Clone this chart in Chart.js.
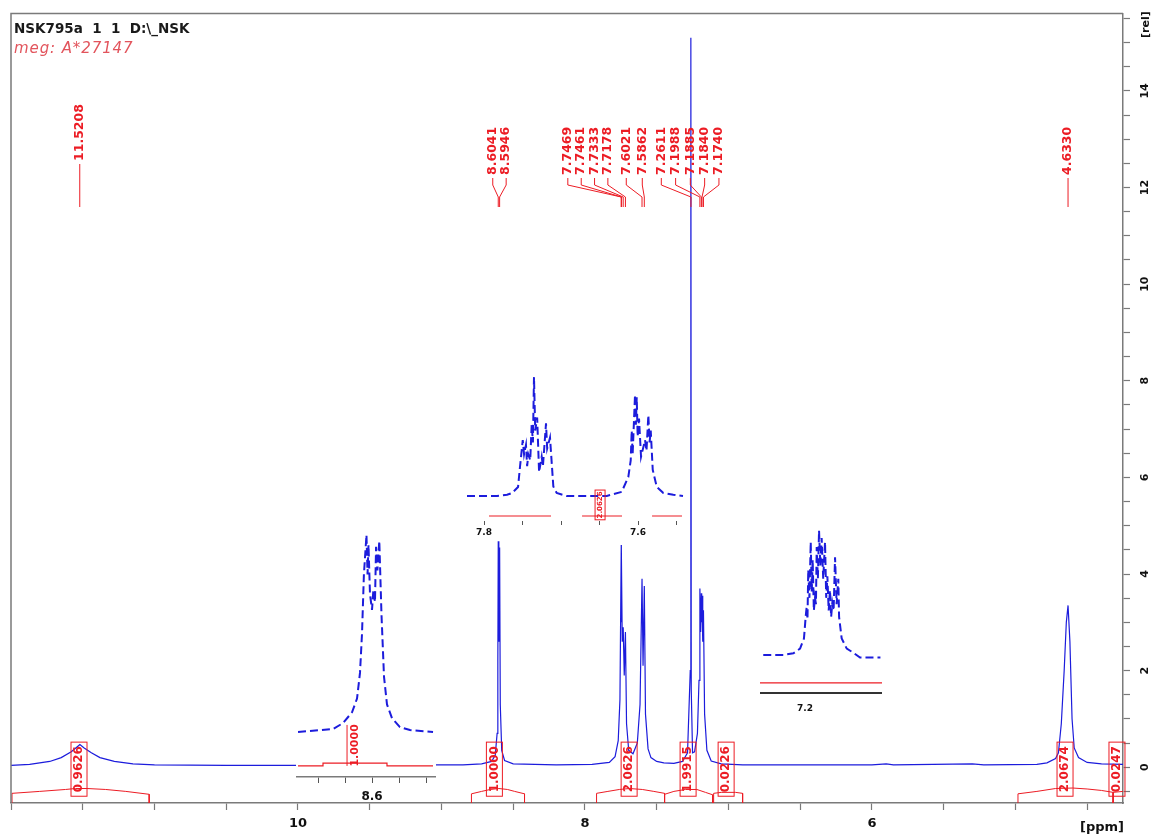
<!DOCTYPE html>
<html>
<head>
<meta charset="utf-8">
<script src="https://cdn.jsdelivr.net/npm/chart.js@4.4.1/dist/chart.umd.min.js"></script>
<style>
  body { margin: 0; background: #fff; }
  #wrap { position: relative; width: 1159px; height: 839px; }
  #wrap canvas { position: absolute; }
  .inset { background: #fff; }
</style>
</head>
<body>
<div id="wrap">
  <canvas id="main" width="1159" height="839" style="left:0;top:0"></canvas>
  <canvas id="in1" class="inset" width="140" height="282" style="left:296px;top:520px"></canvas>
  <canvas id="in2" class="inset" width="219" height="168" style="left:465px;top:370px"></canvas>
  <canvas id="in3" class="inset" width="122" height="195" style="left:760px;top:520px"></canvas>
</div>
<script>
// main 1H spectrum, [ppm, intensity]
var mainSpectrum = [
  [12.00,0.04],[11.87,0.06],[11.73,0.12],[11.65,0.20],[11.58,0.32],[11.54,0.42],[11.52,0.47],
  [11.49,0.40],[11.44,0.30],[11.38,0.20],[11.28,0.12],[11.15,0.07],[11.00,0.05],[10.50,0.04],
  [9.80,0.04],[9.20,0.05],[8.85,0.05],[8.72,0.07],[8.65,0.12],[8.625,0.25],[8.612,0.7],
  [8.607,2.2],[8.6041,4.68],[8.600,2.6],[8.5946,4.55],[8.590,1.3],[8.580,0.35],[8.560,0.14],
  [8.50,0.07],[8.20,0.05],[7.95,0.06],[7.83,0.10],[7.79,0.22],[7.768,0.55],[7.756,1.4],
  [7.7469,4.60],[7.7465,3.0],[7.7461,4.52],[7.740,2.6],[7.7333,2.9],[7.726,1.9],[7.7178,2.8],
  [7.710,0.9],[7.695,0.35],[7.665,0.28],[7.635,0.5],[7.616,1.3],[7.6021,3.90],[7.595,2.1],
  [7.5862,3.75],[7.578,1.1],[7.560,0.38],[7.540,0.2],[7.500,0.12],[7.450,0.09],[7.380,0.08],
  [7.320,0.12],[7.285,0.30],[7.2660,2.0],[7.2625,9.0],[7.2618,8.8],[7.2611,15.1],[7.2590,1.6],
  [7.250,0.3],[7.236,0.32],[7.216,0.7],[7.205,1.8],[7.1988,3.70],[7.1935,2.8],[7.1885,3.60],
  [7.1862,3.0],[7.1840,3.55],[7.179,2.6],[7.1740,3.25],[7.166,1.1],[7.150,0.35],[7.120,0.13],
  [7.050,0.07],[6.90,0.05],[6.00,0.05],[5.90,0.07],[5.85,0.05],[5.30,0.07],[5.22,0.05],
  [4.85,0.06],[4.78,0.09],[4.72,0.18],[4.70,0.3],[4.68,0.9],[4.66,2.0],[4.645,3.0],
  [4.633,3.35],[4.62,2.6],[4.605,1.0],[4.59,0.4],[4.56,0.2],[4.50,0.1],[4.40,0.07],[4.25,0.06]
];

// peak picking labels and where each label text sits (ppm)
var peakShifts  = [11.5208, 8.6041, 8.5946, 7.7469, 7.7461, 7.7333, 7.7178, 7.6021, 7.5862,
                   7.2611, 7.1988, 7.1885, 7.1840, 7.1740, 4.6330];
var peakLabelAt = [11.5208, 8.6424, 8.5490, 8.1193, 8.0258, 7.9330, 7.8402, 7.7119, 7.6003,
                   7.4678, 7.3680, 7.2655, 7.1657, 7.0660, 4.6330];

// integrals: value, label position and the drawn curve
var integralValues = ['0.9626', '1.0000', '2.0626', '1.9915', '0.0226', '2.0674', '0.0247'];
var integralLabelAt = [11.526, 8.631, 7.692, 7.281, 7.016, 4.654, 4.292];
var integralCurves = [
  [[11.993,-0.74],[11.993,-0.54],[11.80,-0.50],[11.62,-0.46],[11.55,-0.44],[11.47,-0.44],[11.34,-0.46],[11.20,-0.50],[11.037,-0.56],[11.037,-0.74]],
  [[8.791,-0.74],[8.791,-0.55],[8.72,-0.50],[8.66,-0.46],[8.60,-0.44],[8.54,-0.46],[8.49,-0.50],[8.421,-0.55],[8.421,-0.74]],
  [[7.919,-0.74],[7.919,-0.54],[7.84,-0.50],[7.76,-0.46],[7.69,-0.44],[7.60,-0.46],[7.52,-0.50],[7.445,-0.54],[7.445,-0.74]],
  [[7.445,-0.74],[7.445,-0.56],[7.38,-0.50],[7.30,-0.46],[7.22,-0.46],[7.16,-0.52],[7.110,-0.57],[7.110,-0.74]],
  [[7.103,-0.74],[7.103,-0.54],[7.05,-0.52],[6.95,-0.52],[6.901,-0.54],[6.901,-0.74]],
  [[4.982,-0.74],[4.982,-0.55],[4.85,-0.50],[4.72,-0.44],[4.60,-0.43],[4.50,-0.45],[4.40,-0.48],[4.319,-0.52],[4.319,-0.74]],
  [[4.319,-0.74],[4.319,-0.52],[4.25,-0.50]]
];

// expansions (relative intensity, 1 = tallest line in the inset)
var inset1Spectrum = [
  [8.6548,0],[8.6289,0.015],[8.6215,0.045],[8.6148,0.10],[8.6111,0.17],[8.6089,0.30],[8.6074,0.50],
  [8.6060,0.80],[8.6041,1.00],[8.6033,0.80],[8.6026,0.95],[8.6015,0.70],[8.6000,0.62],[8.5990,0.72],
  [8.5978,0.66],[8.5970,0.94],[8.5960,0.82],[8.5946,0.97],[8.5930,0.60],[8.5911,0.28],[8.5889,0.14],
  [8.5852,0.07],[8.5793,0.025],[8.5719,0.01],[8.5548,0]
];
var inset1Integral = [[8.6548,-0.172],[8.6363,-0.172],[8.6363,-0.158],[8.5889,-0.158],[8.5889,-0.172],[8.5548,-0.172]];

var inset2Spectrum = [
  [7.8221,0],[7.7831,0],[7.7701,0.01],[7.7636,0.025],[7.7558,0.076],[7.7532,0.25],[7.7497,0.47],
  [7.7480,0.35],[7.7455,0.43],[7.7440,0.25],[7.7425,0.35],[7.7400,0.30],[7.7381,0.60],[7.7365,0.45],
  [7.7351,1.0],[7.7335,0.55],[7.7310,0.66],[7.7285,0.20],[7.7251,0.33],[7.7235,0.25],[7.7195,0.61],
  [7.7180,0.40],[7.7143,0.49],[7.7100,0.08],[7.7056,0.025],[7.6926,0],[7.6601,0],[7.6406,0],
  [7.6212,0.035],[7.6126,0.16],[7.6095,0.30],[7.6082,0.55],[7.6070,0.35],[7.6039,0.85],[7.6028,0.60],
  [7.6017,0.83],[7.6005,0.50],[7.5987,0.65],[7.5961,0.33],[7.5935,0.40],[7.5909,0.47],[7.5890,0.38],
  [7.5866,0.68],[7.5850,0.45],[7.5835,0.55],[7.5809,0.22],[7.5757,0.076],[7.5671,0.025],[7.5542,0.01],
  [7.5416,0]
];
var inset2Integral = [[7.7935,-0.168],[7.7130,-0.168],[null,null],[7.6727,-0.168],[7.6208,-0.168],[null,null],[7.5818,-0.168],[7.5429,-0.168]];

var inset3Spectrum = [
  [7.2321,0],[7.2167,0],[7.2090,0.013],[7.2038,0.05],[7.2008,0.13],[7.1995,0.30],[7.1987,0.38],
  [7.1981,0.28],[7.1975,0.67],[7.1966,0.45],[7.1956,0.89],[7.1948,0.50],[7.1941,0.75],[7.1932,0.35],
  [7.1923,0.45],[7.1916,0.40],[7.1910,0.85],[7.1901,0.60],[7.1892,0.98],[7.1882,0.70],[7.1872,0.92],
  [7.1860,0.60],[7.1846,0.89],[7.1837,0.45],[7.1828,0.62],[7.1818,0.35],[7.1808,0.51],[7.1799,0.30],
  [7.1790,0.41],[7.1780,0.35],[7.1769,0.77],[7.1757,0.40],[7.1744,0.60],[7.1738,0.30],[7.1718,0.13],
  [7.1679,0.05],[7.1631,0.02],[7.1577,-0.02],[7.1420,-0.02]
];
var inset3Integral = [[7.2346,-0.22],[7.1408,-0.22]];

var blue = '#1c1cdc';
var red = '#ec1c24';
var axisGrey = '#7a7a7a';
var FONT = '"DejaVu Sans"';
// the lone 11.5208 label sits higher than the others
var labelRaise = [14, 0, 0, 0, 0, 0, 0, 0, 0, 0, 0, 0, 0, 0, 0];

Chart.defaults.font.family = FONT;

function toXY(pairs) {
  return pairs.map(function (p) { return { x: p[0], y: p[1] }; });
}

function isNear(v, t) { return Math.abs(v - t) < 1e-6; }

function vText(ctx, txt, x, y, align) {
  ctx.save();
  ctx.translate(x, y);
  ctx.rotate(-Math.PI / 2);
  ctx.textAlign = align;
  ctx.textBaseline = 'middle';
  ctx.fillText(txt, 0, 0);
  ctx.restore();
}

// frame, header, peak labels and integral labels on the main plot
var mainDecor = {
  id: 'mainDecor',
  afterDraw: function (chart) {
    var ctx = chart.ctx, a = chart.chartArea, x = chart.scales.x, y = chart.scales.y;
    ctx.save();
    ctx.strokeStyle = axisGrey;
    ctx.lineWidth = 1.5;
    ctx.beginPath();
    ctx.moveTo(a.left, a.bottom);
    ctx.lineTo(a.left, a.top);
    ctx.lineTo(a.right, a.top);
    ctx.stroke();

    ctx.fillStyle = '#1a1a1a';
    ctx.font = 'bold 13.5px ' + FONT;
    ctx.textBaseline = 'alphabetic';
    ctx.fillText('NSK795a  1  1  D:\\_NSK', 14, 33);
    ctx.fillStyle = '#e2545c';
    ctx.font = 'italic 15px ' + FONT;
    ctx.letterSpacing = '0.9px';
    ctx.fillText('meg: A*27147', 14, 53);
    ctx.letterSpacing = '0px';

    // axis units
    ctx.fillStyle = '#111';
    ctx.font = 'bold 13px ' + FONT;
    ctx.textAlign = 'right';
    ctx.fillText('[ppm]', a.right + 1, 831);
    ctx.font = 'bold 11px ' + FONT;
    vText(ctx, '[rel]', 1146, 38, 'left');

    // peak labels with their connector lines
    ctx.fillStyle = red;
    ctx.strokeStyle = red;
    ctx.lineWidth = 1;
    ctx.font = 'bold 12.5px ' + FONT;
    peakShifts.forEach(function (s, i) {
      var xp = x.getPixelForValue(s);
      var xl = x.getPixelForValue(peakLabelAt[i]);
      var r = labelRaise[i];
      vText(ctx, s.toFixed(4), xl, 175 - r, 'left');
      ctx.beginPath();
      ctx.moveTo(xl, 178 - r);
      ctx.lineTo(xl, 185);
      ctx.lineTo(xp, 197);
      ctx.lineTo(xp, 207);
      ctx.stroke();
    });

    // integral values in boxes
    ctx.font = 'bold 12px ' + FONT;
    var top = y.getPixelForValue(0.52), bot = y.getPixelForValue(-0.60);
    integralValues.forEach(function (v, i) {
      var xc = x.getPixelForValue(integralLabelAt[i]);
      ctx.strokeRect(xc - 8, top, 16, bot - top);
      vText(ctx, v, xc, (top + bot) / 2, 'center');
    });
    ctx.restore();
  }
};

var mainDatasets = [{
  data: toXY(mainSpectrum), showLine: true, borderColor: blue, borderWidth: 1.2,
  pointRadius: 0, tension: 0
}];
integralCurves.forEach(function (c) {
  mainDatasets.push({ data: toXY(c), showLine: true, borderColor: red, borderWidth: 1, pointRadius: 0 });
});

new Chart(document.getElementById('main'), {
  type: 'scatter',
  data: { datasets: mainDatasets },
  options: {
    responsive: false, animation: false, devicePixelRatio: 1,
    layout: { padding: { top: 10, left: 11, right: 0, bottom: 0 } },
    plugins: { legend: { display: false }, tooltip: { enabled: false } },
    scales: {
      x: {
        type: 'linear', reverse: true, min: 4.25, max: 12.0,
        afterFit: function (s) { s.height = 36; },
        ticks: {
          stepSize: 0.5, includeBounds: false, autoSkip: false, maxRotation: 0, padding: 6,
          color: '#111', font: { size: 13, weight: 'bold' },
          callback: function (v) { return (isNear(v, 10) || isNear(v, 8) || isNear(v, 6)) ? String(v) : ''; }
        },
        grid: { drawOnChartArea: false, tickLength: 7, color: axisGrey, tickWidth: 1.2 },
        border: { color: axisGrey, width: 1.5 }
      },
      y: {
        position: 'right', min: -0.74, max: 15.6,
        afterFit: function (s) { s.width = 36; },
        ticks: {
          stepSize: 0.5, includeBounds: false, autoSkip: false, minRotation: 90, maxRotation: 90,
          crossAlign: 'center', padding: 7, color: '#111', font: { size: 11, weight: 'bold' },
          callback: function (v) { return (v >= 0 && isNear(v / 2, Math.round(v / 2))) ? String(v) : ''; }
        },
        grid: { drawOnChartArea: false, tickLength: 7, color: axisGrey, tickWidth: 1.2 },
        border: { color: axisGrey, width: 1.5 }
      }
    }
  },
  plugins: [mainDecor]
});

// small red integral marks inside the expansions
var insetDecor = {
  id: 'insetDecor',
  afterDraw: function (chart) {
    var m = chart.options.plugins.insetDecor;
    if (!m || !m.text) return;
    var ctx = chart.ctx, x = chart.scales.x, y = chart.scales.y;
    var xc = x.getPixelForValue(m.at);
    var t = y.getPixelForValue(m.top), b = y.getPixelForValue(m.bottom);
    ctx.save();
    ctx.strokeStyle = red;
    ctx.fillStyle = red;
    ctx.lineWidth = 1;
    ctx.font = 'bold ' + m.size + 'px ' + FONT;
    if (m.box) {
      ctx.strokeRect(xc - m.w / 2, t, m.w, b - t);
      vText(ctx, m.text, xc, (t + b) / 2, 'center');
    } else {
      ctx.beginPath();
      ctx.moveTo(xc, b);
      ctx.lineTo(xc, t);
      ctx.stroke();
      vText(ctx, m.text, xc + 8, (t + b) / 2, 'center');
    }
    ctx.restore();
  }
};

function makeInset(id, c) {
  return new Chart(document.getElementById(id), {
    type: 'scatter',
    data: {
      datasets: [
        { data: toXY(c.spectrum), showLine: true, borderColor: blue, borderWidth: 2,
          borderDash: [8, 4], pointRadius: 0, tension: 0 },
        { data: toXY(c.integral), showLine: true, spanGaps: false, borderColor: red,
          borderWidth: 1.2, pointRadius: 0 }
      ]
    },
    options: {
      responsive: false, animation: false, devicePixelRatio: 1,
      layout: { padding: 0 },
      plugins: { legend: { display: false }, tooltip: { enabled: false }, insetDecor: c.mark },
      scales: {
        x: {
          type: 'linear', reverse: true, min: c.xMin, max: c.xMax,
          afterFit: function (s) { s.height = c.axisH; },
          ticks: {
            stepSize: c.step, includeBounds: false, autoSkip: false, maxRotation: 0,
            padding: c.pad, color: '#111', font: { size: c.fs, weight: 'bold' },
            callback: function (v) {
              for (var i = 0; i < c.labels.length; i++) if (isNear(v, c.labels[i])) return String(c.labels[i]);
              return '';
            }
          },
          grid: { display: c.tickLen > 0, drawOnChartArea: false, tickLength: c.tickLen, color: '#555' },
          border: { display: c.borderW > 0, color: c.borderColor, width: c.borderW }
        },
        y: { display: false, min: c.yMin, max: c.yMax }
      }
    },
    plugins: [insetDecor]
  });
}

makeInset('in1', {
  spectrum: inset1Spectrum, integral: inset1Integral,
  xMin: 8.5526, xMax: 8.6563, yMin: -0.2284, yMax: 1.0761,
  axisH: 25, step: 0.02, labels: [8.6], fs: 12, pad: 7, tickLen: 6,
  borderW: 1.5, borderColor: axisGrey,
  mark: { text: '1.0000', at: 8.6185, top: 0.036, bottom: -0.172, size: 11, box: false }
});
makeInset('in2', {
  spectrum: inset2Spectrum, integral: inset2Integral,
  xMin: 7.5403, xMax: 7.8247, yMin: -0.2101, yMax: 1.0588,
  axisH: 17, step: 0.05, labels: [7.8, 7.6], fs: 9, pad: 2, tickLen: 4,
  borderW: 0, borderColor: axisGrey,
  mark: { text: '2.0626', at: 7.6493, top: 0.05, bottom: -0.20, size: 7, box: true, w: 10 }
});
makeInset('in3', {
  spectrum: inset3Spectrum, integral: inset3Integral,
  xMin: 7.1408, xMax: 7.2346, yMin: -0.2992, yMax: 1.063,
  axisH: 22, step: 0.05, labels: [7.2], fs: 9, pad: 10, tickLen: 0,
  borderW: 2, borderColor: '#333',
  mark: null
});
</script>
</body>
</html>
